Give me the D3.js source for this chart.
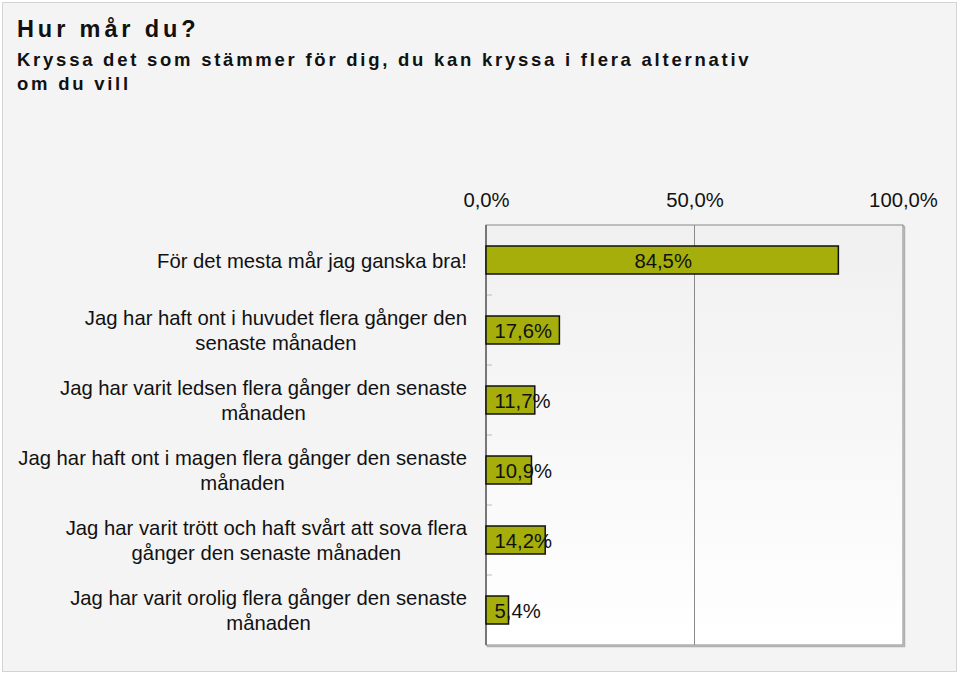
<!DOCTYPE html>
<html><head><meta charset="utf-8">
<script src="https://cdn.jsdelivr.net/npm/d3@7/dist/d3.min.js"></script>
<style>body{margin:0;background:#fff;}svg{display:block;font-family:"Liberation Sans",Arial,sans-serif;}</style>
</head><body>
<svg id="c" width="960" height="674"></svg>
<script>
const categories = [
  ["För det mesta mår jag ganska bra!"],
  ["Jag har haft ont i huvudet flera gånger den", "senaste månaden"],
  ["Jag har varit ledsen flera gånger den senaste", "månaden"],
  ["Jag har haft ont i magen flera gånger den senaste", "månaden"],
  ["Jag har varit trött och haft svårt att sova flera", "gånger den senaste månaden"],
  ["Jag har varit orolig flera gånger den senaste", "månaden"]
];
const values = [84.5, 17.6, 11.7, 10.9, 14.2, 5.4];
const tickValues = [0, 50, 100];
const titleLines = ["Hur mår du?"];
const subtitleLines = ["Kryssa det som stämmer för dig, du kan kryssa i flera alternativ", "om du vill"];

const fmt = v => v.toFixed(1).replace(".", ",") + "%";
const svg = d3.select("#c");
const L = 486, R = 903, T = 225, B = 645;
const FS = 20.3;

const defs = svg.append("defs");
const g1 = defs.append("linearGradient").attr("id","pg").attr("x1",0).attr("y1",0).attr("x2",0).attr("y2",1);
g1.append("stop").attr("offset","0%").attr("stop-color","#f0f0f0");
g1.append("stop").attr("offset","100%").attr("stop-color","#ffffff");

// outer background
svg.append("rect").attr("x",2.5).attr("y",2.5).attr("width",954).attr("height",669)
  .attr("fill","#f4f4f4").attr("stroke","#d4d4d4").attr("stroke-width",1);

// titles
svg.append("text").attr("x",17).attr("y",37).attr("font-size",23.5).attr("font-weight","bold")
  .attr("letter-spacing",3.9).attr("fill","#111").text(titleLines[0]);
subtitleLines.forEach((s,i)=>{
  svg.append("text").attr("x",17).attr("y",66+i*24).attr("font-size",18.5).attr("font-weight","bold")
    .attr("letter-spacing",2.75).attr("fill","#111").text(s);
});

const x = d3.scaleLinear().domain([0,100]).range([L,R]);
const y = d3.scaleBand().domain(d3.range(categories.length)).range([T,B]).paddingInner(0.6).paddingOuter(0.3);
const yb = d3.scaleBand().domain(d3.range(categories.length)).range([T,B]);

// plot area
svg.append("rect").attr("x",L+1.5).attr("y",T+1.5).attr("width",R-L).attr("height",B-T).attr("fill","none").attr("stroke","#b0b0b0").attr("stroke-width",1.5);
svg.append("rect").attr("x",L).attr("y",T).attr("width",R-L).attr("height",B-T).attr("fill","url(#pg)").attr("stroke","#888").attr("stroke-width",1);

// gridlines
svg.append("g").selectAll("line").data(tickValues.filter(v=>v>0&&v<100)).join("line")
  .attr("x1",d=>x(d)).attr("x2",d=>x(d)).attr("y1",T).attr("y2",B).attr("stroke","#8a8a8a").attr("stroke-width",1);

// top axis
const xAxis = d3.axisTop(x).tickValues(tickValues).tickFormat(fmt).tickSize(0).tickPadding(0);
const ax = svg.append("g").attr("transform",`translate(0,${T-18})`).call(xAxis);
ax.select(".domain").remove();
ax.selectAll("text").attr("font-size",FS).attr("fill","#111").attr("font-family","Liberation Sans, Arial, sans-serif");

// left axis with band ticks
svg.append("g").selectAll("line").data(d3.range(1,categories.length)).join("line")
  .attr("x1",L).attr("x2",L+6).attr("y1",d=>yb(d)).attr("y2",d=>yb(d)).attr("stroke","#bbb").attr("stroke-width",1);
svg.append("line").attr("x1",L).attr("x2",L).attr("y1",T).attr("y2",B).attr("stroke","#777").attr("stroke-width",2);

// bars
svg.append("g").selectAll("rect").data(values).join("rect")
  .attr("x",x(0)).attr("y",(d,i)=>y(i)).attr("width",d=>x(d)-x(0)).attr("height",y.bandwidth())
  .attr("fill","#a6ae0c").attr("stroke","#111").attr("stroke-width",1.5);

// value labels
svg.append("g").selectAll("text").data(values).join("text")
  .attr("y",(d,i)=>y(i)+y.bandwidth()/2+7.5)
  .attr("font-size",FS).attr("fill","#111").text(fmt)
  .each(function(d){
    const w = this.getComputedTextLength();
    const bw = x(d)-x(0);
    if (w + 16 > bw) d3.select(this).attr("text-anchor","start").attr("x", x(0)+8.5);
    else d3.select(this).attr("text-anchor","middle").attr("x", (x(0)+x(d))/2+1);
  });

// category labels
const lg = svg.append("g");
categories.forEach((lines,i)=>{
  const t = lg.append("text").attr("font-size",FS).attr("fill","#111").attr("text-anchor","middle");
  const cy = yb(i) + yb.bandwidth()/2;
  const lh = 24.5;
  const y0 = cy - (lines.length-1)*lh/2 + 7.5;
  const spans = lines.map((s,j)=>t.append("tspan").attr("y",y0+j*lh).text(s));
  let w = 0; spans.forEach(sp=>{ w = Math.max(w, sp.node().getComputedTextLength()); });
  spans.forEach(sp=>sp.attr("x", 467 - w/2));
});
</script>
</body></html>
